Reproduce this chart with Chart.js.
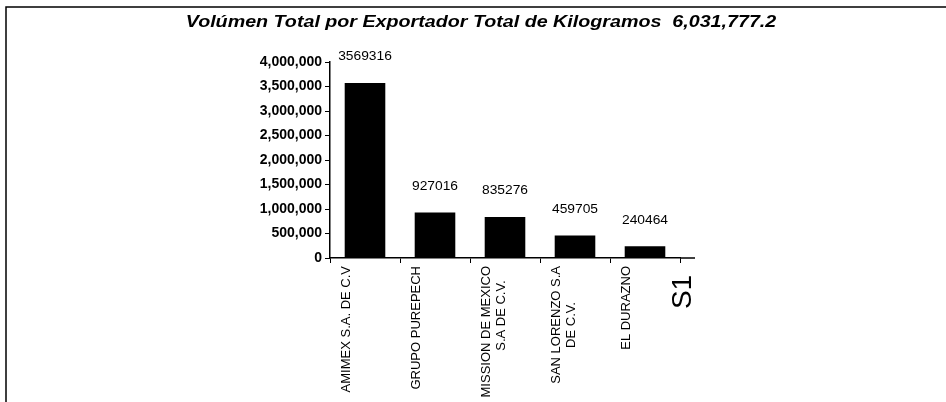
<!DOCTYPE html>
<html>
<head>
<meta charset="utf-8">
<script src="https://cdn.jsdelivr.net/npm/chart.js@4/dist/chart.umd.min.js"></script>
<style>
  html, body { margin: 0; padding: 0; background: #fff; }
  #wrap { width: 946px; height: 402px; }
</style>
</head>
<body>
<div id="wrap"><canvas id="c" width="946" height="402"></canvas></div>
<script>
const chartTitle = "Volúmen Total por Exportador Total de Kilogramos  6,031,777.2";
const categories = [
  "AMIMEX S.A. DE C.V",
  "GRUPO PUREPECH",
  ["MISSION DE MEXICO", "S.A DE C.V.    "],
  ["SAN LORENZO S.A", "DE C.V.          "],
  "EL DURAZNO"
];
const volumes = [3569316, 927016, 835276, 459705, 240464];
const seriesName = "S1";
const yMin = 0, yMax = 4000000, yStep = 500000;

const FONT = '"Liberation Sans", Arial, sans-serif';

const framePlugin = {
  id: 'frame',
  beforeDraw(chart) {
    const ctx = chart.ctx;
    ctx.save();
    ctx.fillStyle = '#fff';
    ctx.fillRect(0, 0, chart.width, chart.height);
    ctx.strokeStyle = '#000';
    ctx.lineWidth = 1.5;
    ctx.beginPath();
    ctx.moveTo(6, chart.height);
    ctx.lineTo(6, 7);
    ctx.lineTo(chart.width, 7);
    ctx.stroke();
    ctx.restore();
  },
  afterDraw(chart) {
    const ctx = chart.ctx;
    const xs = chart.scales.x, ys = chart.scales.y;
    ctx.save();
    // title (slightly widened like the scanned original)
    ctx.save();
    ctx.fillStyle = '#000';
    ctx.font = 'italic bold 16px ' + FONT;
    ctx.textAlign = 'center';
    ctx.textBaseline = 'middle';
    ctx.translate(481, 23);
    ctx.scale(1.23, 1);
    ctx.fillText(chartTitle, 0, 0);
    ctx.restore();
    // extend x axis line
    ctx.strokeStyle = '#000';
    ctx.lineWidth = 1.5;
    const y0 = ys.getPixelForValue(0);
    ctx.beginPath();
    ctx.moveTo(xs.right, y0);
    ctx.lineTo(xs.right + 15, y0);
    ctx.stroke();
    // series name
    ctx.fillStyle = '#000';
    ctx.translate(xs.right + 3, y0 + 34);
    ctx.rotate(-Math.PI / 2);
    ctx.font = '28px ' + FONT;
    ctx.textAlign = 'center';
    ctx.textBaseline = 'middle';
    ctx.fillText(seriesName, 0, 0);
    ctx.restore();
  },
  afterDatasetsDraw(chart) {
    const ctx = chart.ctx;
    const meta = chart.getDatasetMeta(0);
    ctx.fillStyle = '#000';
    ctx.font = '12px ' + FONT;
    ctx.textAlign = 'center';
    ctx.textBaseline = 'middle';
    meta.data.forEach((bar, i) => {
      ctx.save();
      ctx.translate(bar.x, bar.y - 26);
      ctx.scale(1.15, 1);
      ctx.fillText(String(volumes[i]), 0, 0);
      ctx.restore();
    });
  }
};

new Chart(document.getElementById('c'), {
  type: 'bar',
  data: {
    labels: categories,
    datasets: [{
      label: seriesName,
      data: volumes,
      backgroundColor: '#000',
      borderColor: '#000',
      borderWidth: 0,
      barPercentage: 0.58,
      categoryPercentage: 1.0
    }]
  },
  options: {
    responsive: false,
    animation: false,
    devicePixelRatio: 1,
    layout: { padding: { left: 240, top: 62, right: 266, bottom: 0 } },
    plugins: {
      legend: { display: false },
      title: { display: false },
      tooltip: { enabled: false }
    },
    scales: {
      x: {
        afterFit(scale) { scale.height = 144; },
        border: { display: true, color: '#000', width: 1.5 },
        grid: { display: true, drawOnChartArea: false, offset: true, tickLength: 5, color: '#000', lineWidth: 1 },
        ticks: {
          color: '#000',
          font: { family: FONT, size: 13 },
          maxRotation: 90, minRotation: 90,
          autoSkip: false,
          labelOffset: -19,
          padding: 3
        }
      },
      y: {
        min: yMin, max: yMax,
        afterFit(scale) { scale.width = 90; },
        border: { display: true, color: '#000', width: 1.5 },
        grid: { display: true, drawOnChartArea: false, tickLength: 5, color: '#000', lineWidth: 1 },
        ticks: {
          stepSize: yStep,
          color: '#000',
          padding: 3,
          font: { family: FONT, size: 14, weight: 'bold' },
          callback: v => Number(v).toLocaleString('en-US')
        }
      }
    }
  },
  plugins: [framePlugin]
});
</script>
</body>
</html>
